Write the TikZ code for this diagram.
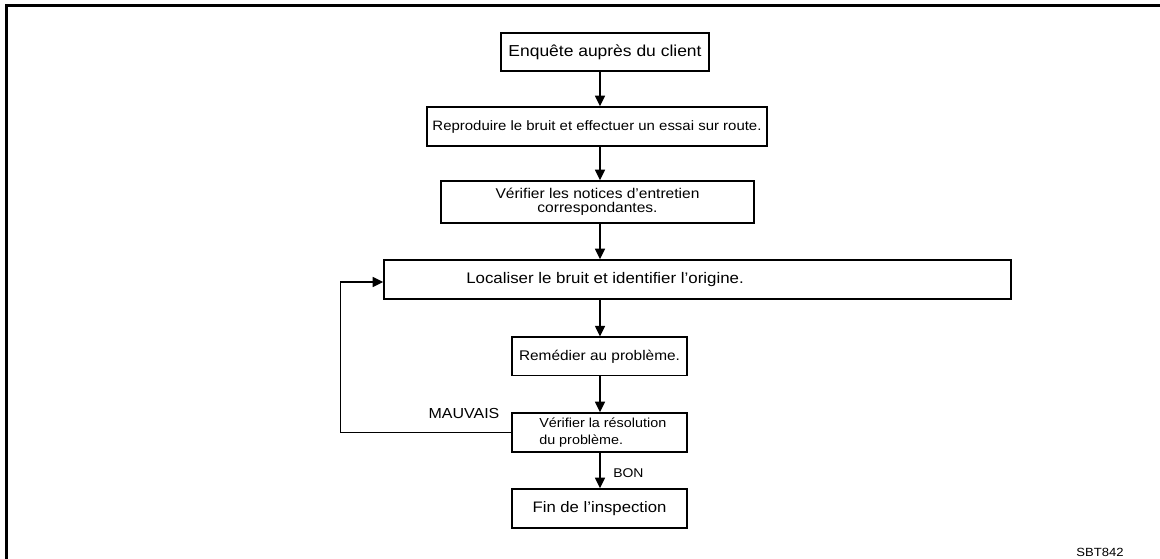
\documentclass[tikz,border=0pt]{standalone}
\usepackage{fontspec}
\setmainfont[FakeStretch=1.1]{Liberation Sans}
\usetikzlibrary{positioning, calc, arrows.meta}

\begin{document}
\begin{tikzpicture}[x=0.75pt, y=-0.75pt,
	box/.style={draw, line width=1.1pt, inner sep=0pt, align=center},
	flow/.style={line width=1.1pt, -{Triangle[width=7.5pt, length=8pt]}},
	fs/.style 2 args={font=\fontsize{#1}{#2}\selectfont}]
\useasboundingbox (0,0) rectangle (1160,559);
\draw[line width=2.3pt] (6.5,559) |- (1160,5.5);
\coordinate (spine) at (600,0);
\node[box, fs={11.9}{14}, minimum width=156pt, minimum height=28.5pt] (client) at (605,52) {Enquête auprès du client};
\node[box, fs={10.2}{12}, minimum width=255pt, minimum height=29.25pt] (bruit) at (597,126.5) {Reproduire le bruit et effectuer un essai sur route.};
\node[box, fs={10.6}{10.8}, minimum width=234.75pt, minimum height=31.5pt] (notices) at (597.5,202) {Vérifier les notices d’entretien\\correspondantes.};
\node[box, minimum width=470.25pt, minimum height=29.25pt] (origine) at (697.5,279.5) {};
\node[fs={11.5}{13}, inner sep=0pt] (origine txt) at (605,279.5) {Localiser le bruit et identifier l’origine.};
\node[box, fs={10.5}{12}, minimum width=131.25pt, minimum height=28.9pt] (remede) at (599.5,356.5) {Remédier au problème.};
\node[box, minimum width=131.25pt, minimum height=29.25pt] (resolution) at (599.5,432.5) {};
\node[fs={9.8}{12.4}, align=left, anchor=west, inner sep=0pt] (resolution txt) at (539,432.5) {Vérifier la résolution\\du problème.};
\node[box, fs={11.4}{13}, minimum width=131.25pt, minimum height=29.25pt] (fin) at (599.5,508.5) {Fin de l’inspection};
% connecteurs
\foreach \a/\b in {client/bruit, bruit/notices, notices/origine, origine/remede, remede/resolution, resolution/fin}
	\draw[flow] (\a.south -| spine) -- (\b.north -| spine);
\draw[flow] (resolution.west) -- ++(-171,0) |- ($(origine.west)+(0,2.5)$);
\node[fs={10.9}{12}, anchor=base, inner sep=0pt] (mauvais) at (464,418) {MAUVAIS};
\node[fs={9.5}{11}, anchor=base west, inner sep=0pt] (bon) at (613,477) {BON};
\node[fs={8.9}{10}, anchor=base, inner sep=0pt] (ref) at (1100,556) {SBT842};
\end{tikzpicture}
\end{document}
